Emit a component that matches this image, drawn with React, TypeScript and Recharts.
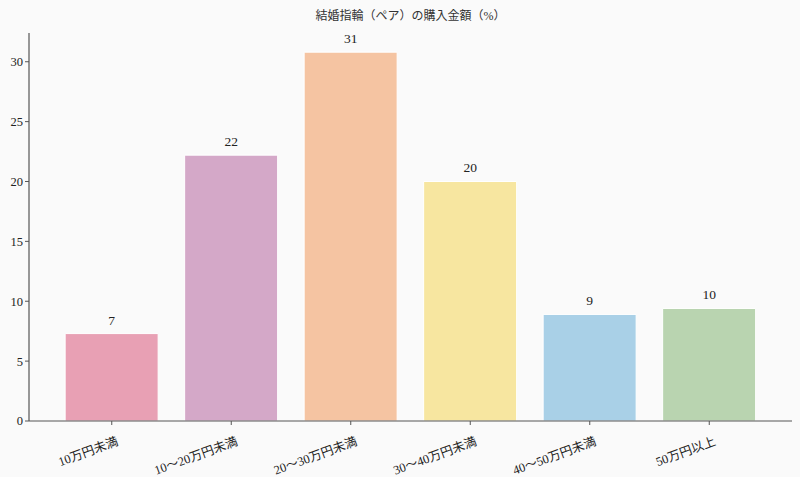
import { BarChart, Bar, XAxis, YAxis, Cell, LabelList } from 'recharts';

const categories = ['10万円未満', '10～20万円未満', '20～30万円未満', '30～40万円未満', '40～50万円未満', '50万円以上'];
const shares = [7.3, 22.2, 30.8, 20.0, 8.9, 9.4];
const shareLabels = ['7', '22', '31', '20', '9', '10'];
const barColors = ['#e8a0b4', '#d4a8c8', '#f5c4a2', '#f7e6a0', '#a9d0e7', '#b9d4b0'];
const yTicks = [0, 5, 10, 15, 20, 25, 30];

const FONT = '"Liberation Serif", "DejaVu Serif", "Noto Sans CJK JP", serif';

const data = categories.map((name, i) => ({ name, value: shares[i], label: shareLabels[i] }));

function SlantTick({ x, y, payload }: any) {
  return (
    <g transform={`translate(${x + 4},${y + 9}) rotate(-20)`}>
      <text x={0} y={0} dy="0.75em" textAnchor="end" fontSize={12.5} fill="#222" fontFamily={FONT}>
        {payload.value}
      </text>
    </g>
  );
}

export default function App() {
  return (
    <div style={{ position: 'absolute', left: 0, top: 0, width: 800, height: 477, background: '#fafafa', fontFamily: FONT }}>
      <div style={{ position: 'absolute', top: 6, left: 29, width: 763, textAlign: 'center', fontSize: 12, color: '#333' }}>
        結婚指輪（ペア）の購入金額（%）
      </div>
      <BarChart
        width={800}
        height={477}
        data={data}
        margin={{ top: 33, right: 8, bottom: 0, left: 0 }}
        barCategoryGap="11%"
      >
        <XAxis
          dataKey="name"
          interval={0}
          height={56}
          padding={{ left: 23, right: 23 }}
          tick={<SlantTick />}
          tickSize={4}
          axisLine={{ stroke: '#555', strokeWidth: 1.2 }}
          tickLine={{ stroke: '#555' }}
        />
        <YAxis
          type="number"
          domain={[0, 32.4]}
          ticks={yTicks}
          width={29}
          tickSize={4}
          tick={{ fontSize: 12.5, fill: '#222', fontFamily: FONT }}
          axisLine={{ stroke: '#555', strokeWidth: 1.2 }}
          tickLine={{ stroke: '#555' }}
        />
        <Bar dataKey="value" isAnimationActive={false} stroke="#ffffff" strokeWidth={1}>
          {data.map((d, i) => (
            <Cell key={d.name} fill={barColors[i]} />
          ))}
          <LabelList
            dataKey="label"
            position="top"
            offset={9}
            style={{ fontSize: 13.5, fill: '#222', fontFamily: FONT }}
          />
        </Bar>
      </BarChart>
    </div>
  );
}
